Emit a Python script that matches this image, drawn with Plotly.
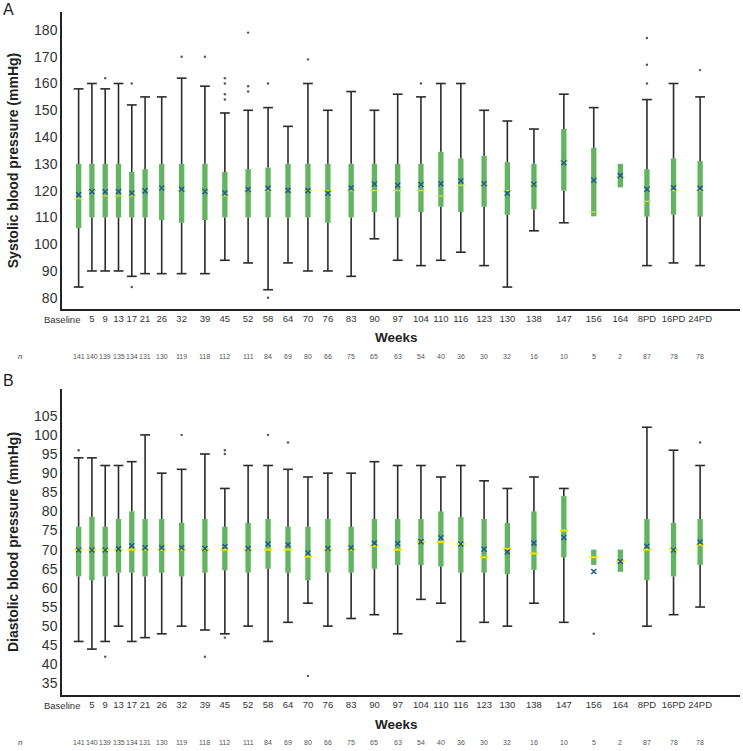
import plotly.graph_objects as go

# ---------------- data ----------------
week_labels = ["Baseline", "5", "9", "13", "17", "21", "26", "32", "39", "45", "52", "58", "64",
               "70", "76", "83", "90", "97", "104", "110", "116", "123", "130", "138", "147",
               "156", "164", "8PD", "16PD", "24PD"]
week_pos = [1, 5, 9, 13, 17, 21, 26, 32, 39, 45, 52, 58, 64, 70, 76, 83, 90, 97, 104, 110,
            116, 123, 130, 138, 147, 156, 164, 172, 180, 188]
n_counts = [141, 140, 139, 135, 134, 131, 130, 119, 118, 112, 111, 84, 69, 80, 66, 75, 65, 63,
            54, 40, 36, 30, 32, 16, 10, 5, 2, 87, 78, 78]

# Systolic (panel A)
sys_low = [84, 90, 90, 90, 88, 89, 89, 89, 89, 94, 93, 83, 93, 90, 90, 88, 102, 94, 92, 94,
           97, 92, 84, 105, 108, 110.4, 121.2, 92, 93, 92]
sys_q1 = [106, 110, 110, 110, 110, 110, 109, 108, 109, 110, 110, 110, 110, 110, 108, 110, 112,
          110, 112, 114, 112, 114, 111, 113, 120, 110.4, 121.2, 110.3, 111, 110.3]
sys_med = [117, 120, 118, 118, 118, 120, 121, 120, 120, 118, 120, 120, 120, 120, 120, 120, 120,
           120, 120, 118, 122, 122, 120, 122, 131, 112, 125, 116, 120, 120]
sys_q3 = [130, 130, 130, 130, 127, 128, 130, 130, 130, 127, 128, 128.6, 130, 130, 130, 130, 130,
          130, 130, 134.5, 132, 133, 130.6, 130, 143, 136, 130, 128, 132, 131]
sys_high = [158, 160, 158, 160, 152, 155, 155, 162, 159, 149, 150, 151, 144, 160, 150, 157, 150,
            156, 155, 160, 160, 150, 146, 143, 156, 151, 130, 154, 160, 155]
sys_mean = [118.5, 119.7, 119.6, 119.7, 119.1, 119.9, 121, 120.5, 119.7, 119.1, 120.4, 120.9,
            120.1, 120, 119, 121, 122.5, 122, 122.3, 122.6, 123.6, 122.6, 119, 122.4, 130.4,
            123.9, 125.6, 120.5, 121.1, 120.9]
sys_out = [[], [], [162], [], [160, 84], [], [], [170], [170], [154, 156, 160, 162],
           [157, 159, 179], [160, 80], [], [169], [], [], [], [], [160], [], [], [], [], [],
           [], [], [], [160, 167, 177], [], [165]]

# Diastolic (panel B)
dia_low = [46, 44, 46, 50, 46, 47, 48, 50, 49, 48, 50, 46, 51, 56, 50, 52, 53, 48, 57, 56, 46,
           51, 50, 56, 51, 66, 64.2, 50, 53, 55]
dia_q1 = [63, 62, 63, 64, 64, 63, 64, 63, 64, 64.6, 64, 65, 64, 62, 64, 64, 65, 66, 66, 65.6,
          64, 64, 63.6, 64.7, 68, 66, 64.2, 62, 63, 66]
dia_med = [70, 70, 70, 70, 70, 70, 70, 70, 70, 70, 70, 70, 70, 68.2, 70, 70, 71, 70, 72, 72,
           71.5, 68, 70.2, 69, 75, 68, 67, 70, 70, 71.3]
dia_q3 = [76, 78.6, 76, 78, 80, 78, 78, 77, 78, 76, 77, 78, 76, 76, 78, 76, 78, 78, 78, 80,
          78.5, 78, 77, 80, 84, 70, 70, 78, 77, 78]
dia_high = [94, 94, 92, 92, 93, 100, 90, 91, 95, 86, 92, 92, 91, 89, 90, 90, 93, 92, 92, 89,
            92, 88, 86, 89, 86, 70, 70, 102, 96, 92]
dia_mean = [69.9, 69.9, 69.9, 70.2, 71, 70.5, 70.5, 70.5, 70.3, 70.8, 70.3, 71.5, 71.2, 69.1,
            70.3, 70.5, 71.7, 71.6, 72.1, 73.1, 71.5, 70.1, 69.4, 71.7, 73.2, 64.3, 66.9,
            70.9, 69.9, 72]
dia_out = [[96], [], [42], [], [], [], [], [100], [42], [96, 95, 47], [], [100], [98], [37],
           [], [], [], [], [], [], [], [], [], [], [], [48], [], [], [], [98]]

# ---------------- style ----------------
FONT = "Liberation Sans, Arial, sans-serif"
BOX_GREEN = "#63b462"
WHISK = "#2b2b2b"
MEAN_C = "#1c5c8c"
BOX_W = 1.6

fig = go.Figure()


def add_panel(xa, ya, low, q1, med, q3, high, mean, outs, med_color, med_w):
    wx, wy, cx, cy = [], [], [], []
    for p, lo, a, b, hi in zip(week_pos, low, q1, q3, high):
        if lo < a:
            wx += [p, p, None]
            wy += [lo, a, None]
            cx.append(p)
            cy.append(lo)
        if hi > b:
            wx += [p, p, None]
            wy += [b, hi, None]
            cx.append(p)
            cy.append(hi)
    fig.add_trace(go.Bar(x=week_pos, y=[b - a for a, b in zip(q1, q3)], base=q1, width=BOX_W,
                         marker=dict(color=BOX_GREEN, line=dict(width=0)),
                         xaxis=xa, yaxis=ya, hoverinfo="skip"))
    fig.add_trace(go.Scatter(x=wx, y=wy, mode="lines", line=dict(color=WHISK, width=1.6),
                             xaxis=xa, yaxis=ya, hoverinfo="skip"))
    fig.add_trace(go.Scatter(x=cx, y=cy, mode="markers",
                             marker=dict(symbol="line-ew", size=7,
                                         line=dict(color=WHISK, width=1.6)),
                             xaxis=xa, yaxis=ya, hoverinfo="skip"))
    fig.add_trace(go.Scatter(x=week_pos, y=med, mode="markers",
                             marker=dict(symbol="line-ew", size=6,
                                         line=dict(color=med_color, width=med_w)),
                             xaxis=xa, yaxis=ya, hoverinfo="skip"))
    fig.add_trace(go.Scatter(x=week_pos, y=mean, mode="markers",
                             marker=dict(symbol="x-thin", size=5,
                                         line=dict(color=MEAN_C, width=1.5)),
                             xaxis=xa, yaxis=ya, hoverinfo="skip"))
    ox, oy = [], []
    for p, o in zip(week_pos, outs):
        for v in o:
            ox.append(p)
            oy.append(v)
    fig.add_trace(go.Scatter(x=ox, y=oy, mode="markers",
                             marker=dict(symbol="circle", size=2.4, color="#555555"),
                             xaxis=xa, yaxis=ya, hoverinfo="skip"))


add_panel("x", "y", sys_low, sys_q1, sys_med, sys_q3, sys_high, sys_mean, sys_out,
          "#d4dc50", 1.2)
add_panel("x2", "y2", dia_low, dia_q1, dia_med, dia_q3, dia_high, dia_mean, dia_out,
          "#f2e600", 2)

# the first (Baseline) label is drawn right-aligned as an annotation below
tick_vals = week_pos[1:]
tick_text = week_labels[1:]
TICK_FONT = dict(family=FONT, size=9.5, color="#333333")

xcommon = dict(range=[-4, 200], tickvals=tick_vals, ticktext=tick_text, tickangle=0,
               automargin=False, showgrid=False,
               zeroline=False, showline=True, linecolor="#222222", linewidth=1.5,
               ticks="", tickfont=TICK_FONT, fixedrange=True)
ycommon = dict(showgrid=False, zeroline=False, showline=True, linecolor="#222222",
               automargin=False,
               linewidth=1.5, ticks="", tickfont=dict(family=FONT, size=14, color="#333333"),
               fixedrange=True)

W, H = 743, 751
ML, MR, MT, MB = 62, 3, 12, 56
plot_w = W - ML - MR
plot_h = H - MT - MB


def px_to_paper_x(px):
    return (px - ML) / plot_w


def px_to_paper_y(py):
    return (H - MB - py) / plot_h


fig.update_layout(
    width=W, height=H,
    margin=dict(l=ML, r=MR, t=MT, b=MB),
    paper_bgcolor="white", plot_bgcolor="white",
    showlegend=False, barmode="overlay",
    xaxis=dict(domain=[0, 1], anchor="y", **xcommon),
    yaxis=dict(domain=[px_to_paper_y(309), 1], anchor="x", range=[75.8, 186.7],
               tickvals=list(range(80, 181, 10)),
               title=dict(text="<b>Systolic blood pressure (mmHg)</b>", standoff=12,
                          font=dict(family=FONT, size=14, color="#222222")),
               **ycommon),
    xaxis2=dict(domain=[0, 1], anchor="y2", **xcommon),
    yaxis2=dict(domain=[0, px_to_paper_y(389)], anchor="x2", range=[32, 112],
                tickvals=list(range(35, 106, 5)),
                title=dict(text="<b>Diastolic blood pressure (mmHg)</b>", standoff=12,
                           font=dict(family=FONT, size=14, color="#222222")),
                **ycommon),
)

annotations = []
annotations.append(dict(text="A", x=px_to_paper_x(8), y=px_to_paper_y(10), xref="paper",
                        yref="paper", showarrow=False, xanchor="center", yanchor="middle",
                        font=dict(family=FONT, size=16, color="#222222")))
annotations.append(dict(text="B", x=px_to_paper_x(8), y=px_to_paper_y(380), xref="paper",
                        yref="paper", showarrow=False, xanchor="center", yanchor="middle",
                        font=dict(family=FONT, size=16, color="#222222")))
for xa, tick_py, weeks_py, n_py in (("x", 319, 338, 356), ("x2", 705, 724, 742)):
    annotations.append(dict(text=week_labels[0], x=px_to_paper_x(82),
                            y=px_to_paper_y(tick_py), xref="paper", yref="paper",
                            showarrow=False, xanchor="right", yanchor="middle",
                            font=TICK_FONT))
    annotations.append(dict(text="<b>Weeks</b>", x=px_to_paper_x(396),
                            y=px_to_paper_y(weeks_py), xref="paper", yref="paper",
                            showarrow=False, xanchor="center", yanchor="middle",
                            font=dict(family=FONT, size=13.5, color="#222222")))
    annotations.append(dict(text="<i>n</i>", x=px_to_paper_x(20), y=px_to_paper_y(n_py),
                            xref="paper", yref="paper", showarrow=False, xanchor="center",
                            yanchor="middle",
                            font=dict(family=FONT, size=8, color="#444444")))
    for p, n in zip(week_pos, n_counts):
        annotations.append(dict(text=str(n), x=p, y=px_to_paper_y(n_py), xref=xa,
                                yref="paper", showarrow=False, xanchor="center",
                                yanchor="middle",
                                font=dict(family=FONT, size=7, color="#555555")))

fig.update_layout(annotations=annotations)

fig.write_html("out.html", config={"displayModeBar": False},
               post_script="document.body.style.margin='0';document.body.style.padding='0';")
